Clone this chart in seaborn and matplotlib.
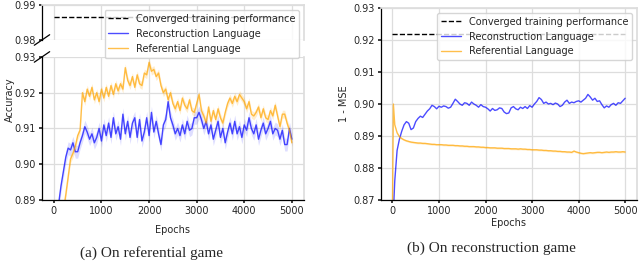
import numpy as np
import pandas as pd
import matplotlib
matplotlib.use("Agg")
import matplotlib.pyplot as plt
import seaborn as sns

# -------------------------
# Data
# -------------------------
epochs = list(range(0, 5001, 50))

# (a) referential game, accuracy
ref_game_recon = [
    0.8800, 0.8840, 0.8890, 0.8940, 0.8980, 0.9020, 0.9045, 0.9040, 0.9060, 0.9035,
    0.9035, 0.9060, 0.9080, 0.9105, 0.9090, 0.9070, 0.9085, 0.9060, 0.9075, 0.9100,
    0.9065, 0.9110, 0.9080, 0.9115, 0.9075, 0.9130, 0.9085, 0.9105, 0.9070, 0.9140,
    0.9085, 0.9120, 0.9075, 0.9115, 0.9130, 0.9075, 0.9125, 0.9065, 0.9090, 0.9130,
    0.9080, 0.9145, 0.9090, 0.9120, 0.9085, 0.9055, 0.9110, 0.9125, 0.9175, 0.9130,
    0.9110, 0.9085, 0.9100, 0.9080, 0.9110, 0.9085, 0.9120, 0.9095, 0.9100, 0.9130,
    0.9130, 0.9145, 0.9125, 0.9100, 0.9120, 0.9085, 0.9110, 0.9070, 0.9095, 0.9120,
    0.9075, 0.9100, 0.9060, 0.9090, 0.9115, 0.9085, 0.9120, 0.9085, 0.9105, 0.9075,
    0.9110, 0.9095, 0.9130, 0.9100, 0.9085, 0.9110, 0.9070, 0.9095, 0.9115, 0.9085,
    0.9100, 0.9120, 0.9085, 0.9100, 0.9095, 0.9070, 0.9095, 0.9055, 0.9055, 0.9100,
    0.9070,
]
ref_game_ref = [
    0.8700, 0.8740, 0.8780, 0.8820, 0.8870, 0.8915, 0.8965, 0.9015, 0.9030, 0.9050,
    0.9080, 0.9095, 0.9200, 0.9175, 0.9210, 0.9190, 0.9215, 0.9180, 0.9200, 0.9175,
    0.9210, 0.9185, 0.9215, 0.9190, 0.9220, 0.9195, 0.9225, 0.9205, 0.9225, 0.9210,
    0.9270, 0.9235, 0.9220, 0.9245, 0.9215, 0.9250, 0.9225, 0.9220, 0.9255, 0.9250,
    0.9285, 0.9260, 0.9265, 0.9245, 0.9255, 0.9220, 0.9200, 0.9210, 0.9180, 0.9200,
    0.9170, 0.9155, 0.9175, 0.9150, 0.9185, 0.9165, 0.9155, 0.9180, 0.9150, 0.9145,
    0.9170, 0.9195, 0.9150, 0.9135, 0.9115, 0.9160, 0.9120, 0.9150, 0.9125, 0.9155,
    0.9130, 0.9115, 0.9145, 0.9170, 0.9185, 0.9170, 0.9190, 0.9175, 0.9195, 0.9185,
    0.9175, 0.9155, 0.9175, 0.9140, 0.9135, 0.9145, 0.9160, 0.9130, 0.9155, 0.9130,
    0.9125, 0.9150, 0.9135, 0.9165, 0.9135, 0.9105, 0.9140, 0.9140, 0.9115, 0.9095,
    0.9060,
]
ref_game_converged = 0.9865
band_recon = 0.0018
band_ref = 0.0011

# (b) reconstruction game, 1 - MSE
epochs_r = [0, 20, 50] + list(range(100, 5001, 50))
rec_game_recon = [
    0.8620, 0.8660, 0.8760,
    0.8855, 0.8890, 0.8915, 0.8935, 0.8945, 0.8940, 0.8920, 0.8925, 0.8945, 0.8955,
    0.8962, 0.8958, 0.8968, 0.8978, 0.8985, 0.8996, 0.8992, 0.8985, 0.8993, 0.8990,
    0.8994, 0.8992, 0.8987, 0.8990, 0.9002, 0.9015, 0.9008, 0.9000, 0.8996, 0.9004,
    0.9002, 0.8996, 0.9006, 0.9000, 0.8996, 0.8990, 0.8998, 0.8992, 0.8990, 0.8985,
    0.8978, 0.8986, 0.8980, 0.8982, 0.8988, 0.8986, 0.8975, 0.8970, 0.8972, 0.8988,
    0.8992, 0.8985, 0.8982, 0.8990, 0.8986, 0.8992, 0.8986, 0.8995, 0.8990, 0.9000,
    0.9008, 0.9020, 0.9014, 0.9002, 0.9006, 0.9000, 0.9002, 0.8998, 0.9003, 0.9000,
    0.8992, 0.8996, 0.9006, 0.9012, 0.9002, 0.9006, 0.9004, 0.9008, 0.9010, 0.9006,
    0.9012, 0.9018, 0.9030, 0.9022, 0.9012, 0.9018, 0.9008, 0.9010, 0.8998, 0.8988,
    0.8994, 0.8990, 0.8998, 0.9002, 0.8996, 0.9004, 0.9002, 0.9010, 0.9018,
]
rec_game_ref = [
    0.8660, 0.9000, 0.8935,
    0.8910, 0.8898, 0.8892, 0.8888, 0.8885, 0.8883, 0.8881, 0.8880, 0.8879, 0.8878,
    0.8878, 0.8877, 0.8877, 0.8876, 0.8875, 0.8874, 0.8874, 0.8873, 0.8873, 0.8873,
    0.8872, 0.8872, 0.8871, 0.8871, 0.8871, 0.8870, 0.8870, 0.8869, 0.8869, 0.8868,
    0.8868, 0.8867, 0.8867, 0.8867, 0.8866, 0.8866, 0.8865, 0.8865, 0.8864, 0.8864,
    0.8863, 0.8863, 0.8863, 0.8862, 0.8862, 0.8862, 0.8861, 0.8861, 0.8861, 0.8860,
    0.8860, 0.8860, 0.8859, 0.8860, 0.8859, 0.8859, 0.8858, 0.8858, 0.8857, 0.8857,
    0.8857, 0.8856, 0.8856, 0.8855, 0.8855, 0.8854, 0.8854, 0.8853, 0.8853, 0.8852,
    0.8852, 0.8851, 0.8851, 0.8850, 0.8850, 0.8849, 0.8853, 0.8850, 0.8848, 0.8846,
    0.8845, 0.8846, 0.8847, 0.8848, 0.8847, 0.8848, 0.8849, 0.8849, 0.8848, 0.8849,
    0.8850, 0.8849, 0.8850, 0.8850, 0.8851, 0.8850, 0.8850, 0.8851, 0.8850,
]
rec_game_converged = 0.9220
band_rec_ref = 0.0003

BLUE = "blue"
ORANGE = "orange"

# -------------------------
# Style
# -------------------------
sns.set_theme(style="whitegrid")
plt.rcParams.update({
    "font.family": ["DejaVu Sans"],
    "font.size": 7,
    "axes.labelsize": 7,
    "xtick.labelsize": 7,
    "ytick.labelsize": 7,
    "legend.fontsize": 7,
    "grid.color": "#dddddd",
    "grid.linewidth": 0.9,
    "axes.edgecolor": "#dddddd",
    "xtick.bottom": True,
    "ytick.left": True,
    "xtick.major.size": 2.5,
    "ytick.major.size": 2.5,
    "xtick.major.pad": 2,
    "ytick.major.pad": 2,
})

fig = plt.figure(figsize=(6.4, 2.63), dpi=100)
ax_top = fig.add_axes([0.0656, 0.848, 0.409, 0.133])
ax_bot = fig.add_axes([0.0656, 0.2395, 0.409, 0.544])
ax_r = fig.add_axes([0.595, 0.2395, 0.400, 0.730])

df_a = pd.DataFrame({"Epochs": epochs, "recon": ref_game_recon, "ref": ref_game_ref})
df_b = pd.DataFrame({"Epochs": epochs_r, "recon": rec_game_recon, "ref": rec_game_ref})


def dark_spines(ax, sides):
    for s in sides:
        ax.spines[s].set_color("black")
        ax.spines[s].set_linewidth(0.9)


# -------------------------
# (a) On referential game  (broken y-axis)
# -------------------------
for ax in (ax_top, ax_bot):
    ax.fill_between(df_a["Epochs"], df_a["recon"] - band_recon, df_a["recon"] + band_recon,
                    color=BLUE, alpha=0.13, lw=0)
    ax.fill_between(df_a["Epochs"], df_a["ref"] - band_ref, df_a["ref"] + band_ref,
                    color=ORANGE, alpha=0.2, lw=0)
    sns.lineplot(data=df_a, x="Epochs", y="recon", ax=ax, color=BLUE, alpha=0.7, lw=1,
                 label="Reconstruction Language", legend=False)
    sns.lineplot(data=df_a, x="Epochs", y="ref", ax=ax, color=ORANGE, alpha=0.7, lw=1,
                 label="Referential Language", legend=False)

conv_a = ax_top.plot([0, 5000], [ref_game_converged] * 2, "--", color="black", lw=1,
                     label="Converged training performance")[0]

ax_top.set_ylim(0.98, 0.99)
ax_top.set_yticks([0.98, 0.99])
ax_top.set_xlim(-250, 5250)
ax_top.set_xticks(range(0, 5001, 1000))
ax_top.tick_params(axis="x", bottom=False, labelbottom=False)
ax_top.spines["bottom"].set_visible(False)
ax_top.set_xlabel("")
ax_top.set_ylabel("")
dark_spines(ax_top, ["left"])

ax_bot.set_ylim(0.89, 0.93)
ax_bot.set_yticks([0.89, 0.90, 0.91, 0.92, 0.93])
ax_bot.set_xlim(-250, 5250)
ax_bot.set_xticks(range(0, 5001, 1000))
ax_bot.spines["top"].set_visible(False)
ax_bot.set_xlabel("Epochs", labelpad=6)
ax_bot.set_ylabel("")
dark_spines(ax_bot, ["left", "bottom"])
for ax in (ax_top, ax_bot):
    ax.yaxis.set_major_formatter(matplotlib.ticker.FormatStrFormatter("%.2f"))

# break marks on the left spine
d = 0.012
kw = dict(color="black", lw=0.9, clip_on=False, transform=fig.transFigure)
x0 = 0.0656
fig.add_artist(plt.Line2D([x0 - d, x0 + d], [0.848 - 0.02, 0.848 + 0.02], **kw))
fig.add_artist(plt.Line2D([x0 - d, x0 + d], [0.7835 - 0.02, 0.7835 + 0.02], **kw))

fig.text(5 / 640, 1 - 100 / 263, "Accuracy", rotation=90, ha="left", va="center", fontsize=7)

h_bot, l_bot = ax_bot.get_legend_handles_labels()
fig.legend([conv_a] + h_bot[:2], ["Converged training performance"] + l_bot[:2],
           loc="upper right", bbox_to_anchor=(299 / 640, 1 - 10 / 263),
           frameon=True, framealpha=0.8, borderaxespad=0, handlelength=2.0)

# -------------------------
# (b) On reconstruction game
# -------------------------
ax_r.plot([0, 5000], [rec_game_converged] * 2, "--", color="black", lw=1,
          label="Converged training performance")
ax_r.fill_between(df_b["Epochs"], df_b["ref"] - band_rec_ref, df_b["ref"] + band_rec_ref,
                  color=ORANGE, alpha=0.18, lw=0)
sns.lineplot(data=df_b, x="Epochs", y="recon", ax=ax_r, color=BLUE, alpha=0.7, lw=1,
             label="Reconstruction Language")
sns.lineplot(data=df_b, x="Epochs", y="ref", ax=ax_r, color=ORANGE, alpha=0.7, lw=1,
             label="Referential Language")
ax_r.set_ylim(0.87, 0.93)
ax_r.set_yticks([0.87, 0.88, 0.89, 0.90, 0.91, 0.92, 0.93])
ax_r.yaxis.set_major_formatter(matplotlib.ticker.FormatStrFormatter("%.2f"))
ax_r.set_xlim(-250, 5250)
ax_r.set_xticks(range(0, 5001, 1000))
ax_r.set_xlabel("Epochs", labelpad=1)
ax_r.set_ylabel("1 - MSE", labelpad=3)
dark_spines(ax_r, ["left", "bottom"])
ax_r.legend(loc="upper right", framealpha=0.8, handlelength=2.0)

# captions
fig.text(152 / 640, 1 - 253 / 263, "(a) On referential game", ha="center", va="center",
         family=["Liberation Serif"], fontsize=11)
fig.text(491 / 640, 1 - 248.5 / 263, "(b) On reconstruction game", ha="center", va="center",
         family=["Liberation Serif"], fontsize=11)

fig.savefig("out.png", dpi=100)
